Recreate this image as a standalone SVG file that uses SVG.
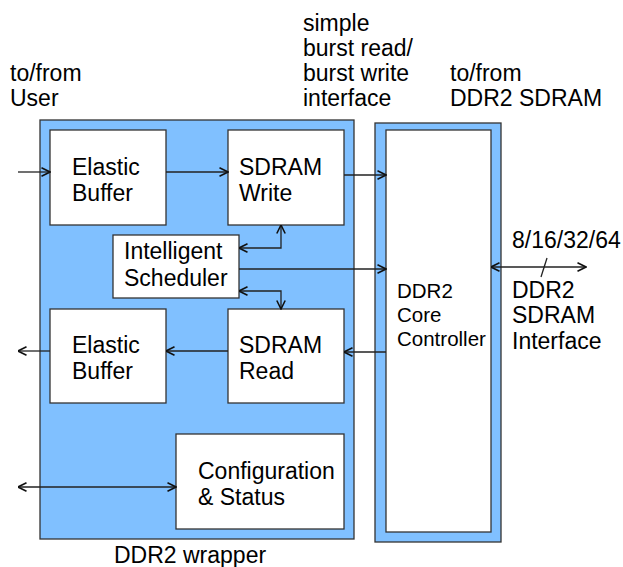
<svg xmlns="http://www.w3.org/2000/svg" width="623" height="567" viewBox="0 0 623 567">
<style>
text{font-family:"Liberation Sans",Arial,sans-serif;font-size:23px;fill:#000}
.blue{fill:#80C0FF;stroke:#333;stroke-width:1.3}
.box{fill:#fff;stroke:#333;stroke-width:1.3}
.c{fill:none;stroke:#222;stroke-width:1.3}
.sm{font-size:20.5px}
</style>
<defs>
<marker id="ah" viewBox="0 0 10 10" markerWidth="10" markerHeight="10" refX="9.5" refY="5" orient="auto-start-reverse" markerUnits="userSpaceOnUse">
<path d="M1,0.8 L9.5,5 L1,9.2" fill="none" stroke="#111" stroke-width="1.6"/>
</marker>
</defs>
<rect width="623" height="567" fill="#fff"/>
<g id="labels">
<text x="10" y="81">to/from</text>
<text x="10" y="106">User</text>
<text x="303" y="31">simple</text>
<text x="303" y="56">burst read/</text>
<text x="303" y="81">burst write</text>
<text x="303" y="106">interface</text>
<text x="450" y="81">to/from</text>
<text x="450" y="106">DDR2 SDRAM</text>
<text x="512" y="248">8/16/32/64</text>
<text x="512" y="298">DDR2</text>
<text x="512" y="323">SDRAM</text>
<text x="512" y="349">Interface</text>
</g>
<g id="wrapper">
<rect class="blue" x="40" y="120" width="314" height="419"/>
<text x="114" y="563">DDR2 wrapper</text>
</g>
<g id="core">
<rect class="blue" x="375" y="123" width="126" height="419"/>
<rect class="box" x="386" y="130" width="105" height="402"/>
<text class="sm" x="397" y="298">DDR2</text>
<text class="sm" x="397" y="322">Core</text>
<text class="sm" x="397" y="346">Controller</text>
</g>
<g id="eb-in">
<rect class="box" x="50" y="130" width="116" height="95"/>
<text x="72" y="175">Elastic</text>
<text x="72" y="201">Buffer</text>
</g>
<g id="sdram-write">
<rect class="box" x="228" y="130" width="116" height="95"/>
<text x="239" y="175">SDRAM</text>
<text x="239" y="201">Write</text>
</g>
<g id="scheduler">
<rect class="box" x="113" y="235" width="126" height="63"/>
<text x="124" y="259">Intelligent</text>
<text x="124" y="286">Scheduler</text>
</g>
<g id="eb-out">
<rect class="box" x="50" y="309" width="116" height="94"/>
<text x="72" y="353">Elastic</text>
<text x="72" y="379">Buffer</text>
</g>
<g id="sdram-read">
<rect class="box" x="228" y="309" width="116" height="94"/>
<text x="239" y="353">SDRAM</text>
<text x="239" y="379">Read</text>
</g>
<g id="config">
<rect class="box" x="176" y="434" width="168" height="95"/>
<text x="198" y="479">Configuration</text>
<text x="198" y="505">&amp; Status</text>
</g>
<g id="connectors">
<path class="c" d="M18,172 H50" marker-end="url(#ah)"/>
<path class="c" d="M166,172 H228" marker-end="url(#ah)"/>
<path class="c" d="M344,175 H386" marker-end="url(#ah)"/>
<path class="c" d="M239,269 H386" marker-end="url(#ah)"/>
<path class="c" d="M239,248 H281 V225" marker-start="url(#ah)" marker-end="url(#ah)"/>
<path class="c" d="M239,291 H281 V309" marker-start="url(#ah)" marker-end="url(#ah)"/>
<path class="c" d="M228,351 H166" marker-end="url(#ah)"/>
<path class="c" d="M50,351 H18" marker-end="url(#ah)"/>
<path class="c" d="M386,352 H344" marker-end="url(#ah)"/>
<path class="c" d="M18,487 H176" marker-start="url(#ah)" marker-end="url(#ah)"/>
<path class="c" d="M491,267 H586" marker-start="url(#ah)" marker-end="url(#ah)"/>
<path class="c" d="M547,258 L541,277"/>
</g>
</svg>
